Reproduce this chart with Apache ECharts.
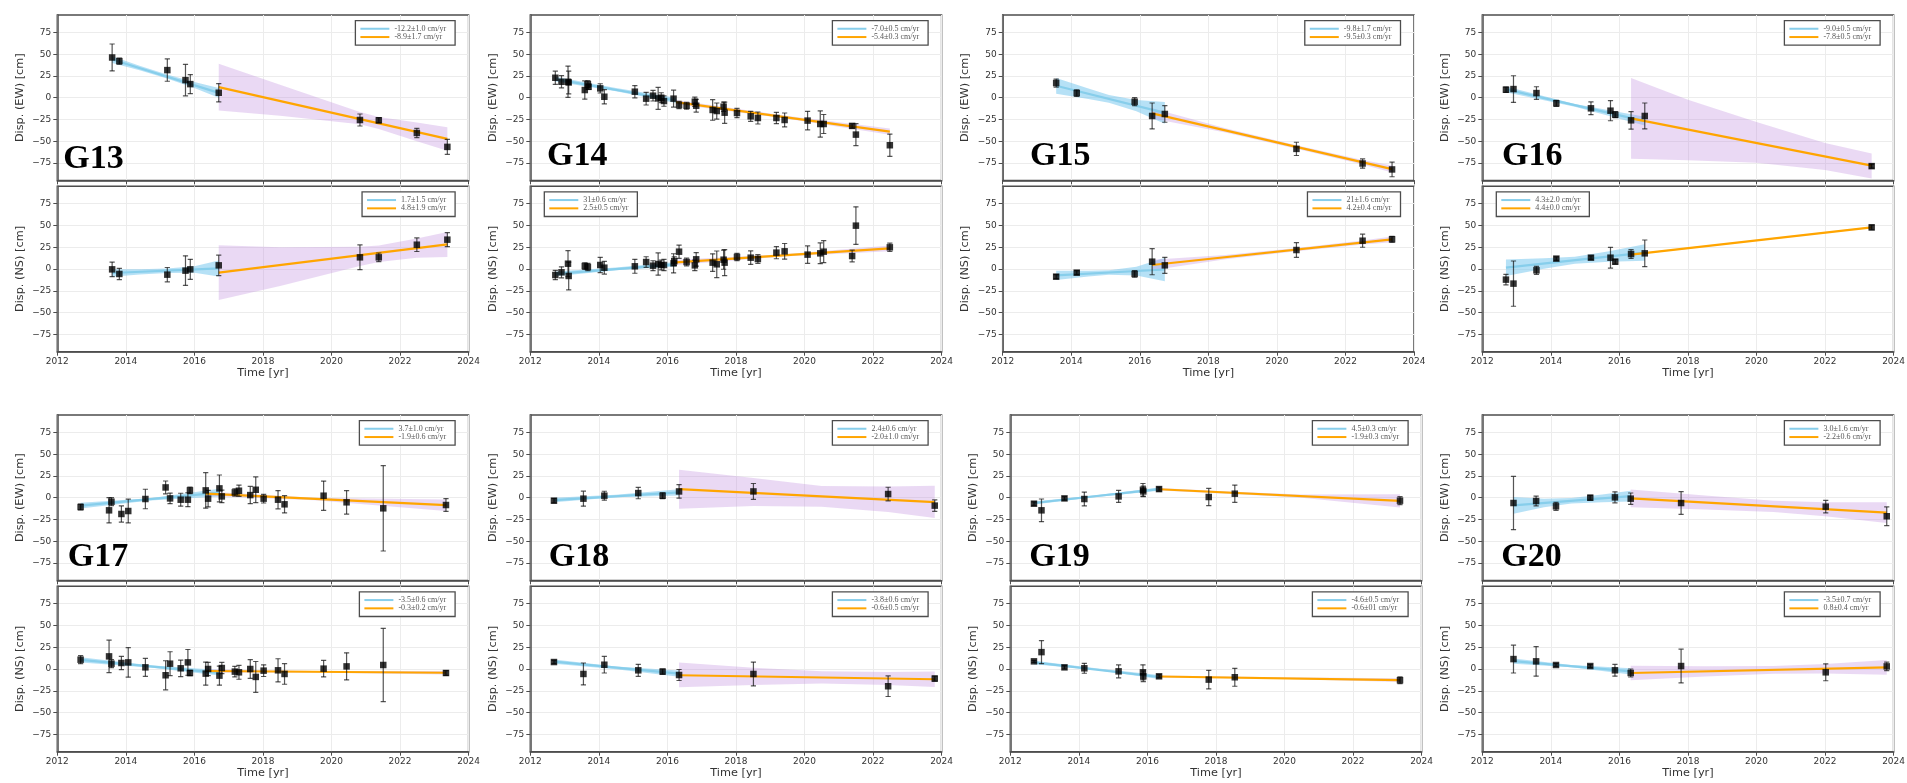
<!DOCTYPE html>
<html><head><meta charset="utf-8">
<script src="https://cdn.jsdelivr.net/npm/echarts@6/dist/echarts.min.js"></script>
<style>html,body{margin:0;padding:0;background:#fff}#c{width:1907px;height:783px}</style>
</head><body><div id="c"></div>
<script>
const xTicks = [2012, 2014, 2016, 2018, 2020, 2022, 2024];
const yTicks = [-75, -50, -25, 0, 25, 50, 75];
const stations = ['G13', 'G14', 'G15', 'G16', 'G17', 'G18', 'G19', 'G20'];

// ---- G13 ----
const G13_EW_pts = [[2013.60,46.2,15.5],[2013.81,42.0,3.6],[2015.21,31.7,12.8],[2015.74,20.2,18.0],[2015.88,15.6,11.0],[2016.71,5.7,10.5],[2020.83,-25.6,6.9],[2021.38,-26.0,3.0],[2022.49,-40.5,5.3],[2023.38,-56.5,8.6]];
const G13_EW_blue = [[2013.60,43.8],[2016.71,5.6]];
const G13_EW_blueBand = [[2013.60,40.0,47.6],[2014.40,31.4,36.6],[2015.20,22.0,26.6],[2016.00,11.0,18.0],[2016.71,0.0,11.2]];
const G13_EW_orange = [[2016.71,12.2],[2023.38,-47.3]];
const G13_EW_orangeBand = [[2016.71,-14.7,39.1],[2018.50,-20.8,15.0],[2020.83,-30.5,-16.5],[2021.38,-36.0,-22.3],[2022.49,-50.0,-28.4],[2023.38,-61.0,-34.0]];
const G13_EW_rates = ['-12.2±1.0 cm/yr', '-8.9±1.7 cm/yr'];

const G13_NS_pts = [[2013.60,-0.4,8.4],[2013.81,-5.7,6.5],[2015.21,-6.5,8.2],[2015.74,-1.9,17.0],[2015.88,-0.4,11.5],[2016.71,4.2,11.7],[2020.83,13.4,14.2],[2021.38,13.4,5.0],[2022.49,27.9,7.8],[2023.38,33.7,8.0]];
const G13_NS_blue = [[2013.60,-4.6],[2016.71,0.7]];
const G13_NS_blueBand = [[2013.60,-9.0,-0.2],[2014.40,-6.2,-0.2],[2015.20,-4.5,0.7],[2016.00,-4.4,3.2],[2016.71,-8.5,9.9]];
const G13_NS_orange = [[2016.71,-4.2],[2023.38,28.3]];
const G13_NS_orangeBand = [[2016.71,-35.6,27.2],[2018.50,-19.5,25.0],[2020.83,3.5,25.5],[2021.38,8.0,27.0],[2022.49,13.0,35.0],[2023.38,13.8,42.5]];
const G13_NS_rates = ['1.7±1.5 cm/yr', '4.8±1.9 cm/yr'];

// ---- G14 ----
const G14_EW_pts = [[2012.73,22.9,7.6],[2012.91,18.3,7.0],[2013.10,18.3,18.0],[2013.12,17.5,13.0],[2013.59,8.8,10.5],[2013.68,15.5,4.0],[2013.70,12.5,3.0],[2014.04,10.7,5.3],[2014.16,1.1,8.2],[2015.05,6.9,7.0],[2015.38,-1.1,7.3],[2015.58,2.3,6.1],[2015.73,-0.8,12.6],[2015.82,0.0,5.7],[2015.90,-3.8,6.0],[2016.18,-1.1,9.7],[2016.34,-8.4,4.2],[2016.56,-9.2,4.0],[2016.80,-4.6,5.3],[2016.84,-9.2,7.3],[2017.32,-14.1,11.8],[2017.44,-15.3,9.2],[2017.64,-10.3,5.3],[2017.67,-17.2,12.2],[2018.03,-17.6,5.3],[2018.43,-21.4,5.7],[2018.64,-23.3,6.9],[2019.18,-23.3,6.5],[2019.42,-25.6,8.0],[2020.09,-26.3,10.7],[2020.46,-30.2,15.0],[2020.56,-30.2,10.9],[2021.39,-32.4,2.5],[2021.50,-42.4,12.6],[2022.49,-54.6,12.8]];
const G14_EW_blue = [[2012.73,21.4],[2016.25,-3.2]];
const G14_EW_blueBand = [[2012.73,18.6,24.2],[2014.50,7.3,11.1],[2016.25,-6.2,-0.2]];
const G14_EW_orange = [[2016.25,-5.0],[2022.49,-39.0]];
const G14_EW_orangeBand = [[2016.25,-7.5,-2.5],[2019.40,-23.6,-20.4],[2022.49,-42.5,-35.5]];
const G14_EW_rates = ['-7.0±0.5 cm/yr', '-5.4±0.3 cm/yr'];

const G14_NS_pts = [[2012.73,-6.9,5.4],[2012.91,-3.8,6.3],[2013.10,6.1,15.0],[2013.12,-8.0,16.0],[2013.59,3.4,3.8],[2013.68,2.3,4.2],[2014.04,4.6,8.8],[2014.16,1.5,7.3],[2015.05,3.1,8.0],[2015.38,8.0,6.1],[2015.58,3.8,5.7],[2015.73,5.7,12.8],[2015.82,4.6,5.7],[2015.90,4.6,6.5],[2016.18,6.5,11.0],[2016.20,9.0,5.0],[2016.34,19.9,7.6],[2016.56,8.0,4.4],[2016.80,4.2,6.1],[2016.84,11.1,7.8],[2017.32,7.3,10.1],[2017.44,5.4,15.3],[2017.64,10.7,11.0],[2017.67,7.3,15.0],[2018.03,13.8,4.2],[2018.43,13.0,7.8],[2018.64,11.5,5.0],[2019.18,18.8,7.0],[2019.42,20.3,9.0],[2020.09,16.5,10.0],[2020.46,18.0,11.9],[2020.56,19.9,12.6],[2021.39,14.9,6.7],[2021.50,49.8,21.6],[2022.49,24.9,4.8]];
const G14_NS_blue = [[2012.73,-5.5],[2016.25,5.4]];
const G14_NS_blueBand = [[2012.73,-8.2,-2.8],[2014.50,-1.4,1.6],[2016.25,2.9,7.9]];
const G14_NS_orange = [[2016.25,7.5],[2022.49,23.6]];
const G14_NS_orangeBand = [[2016.25,4.5,10.5],[2019.40,14.3,16.9],[2022.49,20.3,27.0]];
const G14_NS_rates = ['31±0.6 cm/yr', '2.5±0.5 cm/yr'];

// ---- G15 ----
const G15_EW_pts = [[2013.56,16.8,4.6],[2014.16,5.3,3.8],[2015.85,-4.6,4.6],[2016.36,-21.0,14.9],[2016.73,-18.7,9.5],[2020.57,-58.8,7.6],[2022.50,-75.6,5.3],[2023.36,-82.4,8.4]];
const G15_EW_blue = [[2013.56,13.7],[2016.73,-17.4]];
const G15_EW_blueBand = [[2013.56,4.6,22.6],[2014.50,-1.5,10.5],[2015.10,-5.9,3.1],[2015.90,-15.7,-2.7],[2016.73,-29.9,-4.9]];
const G15_EW_orange = [[2016.36,-18.0],[2023.36,-82.0]];
const G15_EW_orangeBand = [[2016.36,-24.0,-12.0],[2018.50,-40.0,-35.2],[2020.57,-58.5,-54.5],[2022.50,-76.6,-71.6],[2023.36,-86.0,-78.0]];
const G15_EW_rates = ['-9.8±1.7 cm/yr', '-9.5±0.3 cm/yr'];

const G15_NS_pts = [[2013.56,-8.8,2.3],[2014.16,-4.2,2.3],[2015.85,-5.7,3.8],[2016.36,8.4,15.0],[2016.73,4.2,9.2],[2020.57,21.8,8.4],[2022.50,32.5,7.5],[2023.36,34.1,3.4]];
const G15_NS_blue = [[2013.56,-7.3],[2016.73,-0.6]];
const G15_NS_blueBand = [[2013.56,-12.6,-2.0],[2014.50,-8.6,-2.0],[2015.10,-6.7,-1.5],[2015.90,-7.4,2.6],[2016.73,-14.0,12.9]];
const G15_NS_orange = [[2016.36,4.6],[2023.36,34.0]];
const G15_NS_orangeBand = [[2016.36,-1.5,10.7],[2018.50,11.1,16.1],[2020.57,20.5,24.1],[2022.50,28.2,32.6],[2023.36,30.8,37.2]];
const G15_NS_rates = ['21±1.6 cm/yr', '4.2±0.4 cm/yr'];

// ---- G16 ----
const G16_EW_pts = [[2012.69,9.2,3.0],[2012.91,9.9,15.3],[2013.58,5.3,7.3],[2014.16,-6.5,3.4],[2015.17,-12.2,7.3],[2015.74,-14.9,11.6],[2015.88,-19.5,3.4],[2016.34,-26.0,10.1],[2016.74,-21.0,14.9],[2023.36,-78.6,2.3]];
const G16_EW_blue = [[2012.69,9.6],[2016.74,-26.9]];
const G16_EW_blueBand = [[2012.69,6.2,13.0],[2014.70,-10.4,-7.2],[2016.74,-32.0,-21.8]];
const G16_EW_orange = [[2016.34,-23.7],[2023.36,-78.0]];
const G16_EW_orangeBand = [[2016.34,-70.2,22.5],[2018.00,-71.8,-2.3],[2020.00,-74.8,-28.0],[2022.00,-83.0,-52.0],[2023.36,-92.7,-64.0]];
const G16_EW_rates = ['-9.0±0.5 cm/yr', '-7.8±0.5 cm/yr'];

const G16_NS_pts = [[2012.69,-12.2,6.0],[2012.91,-16.8,26.0],[2013.58,-1.5,4.6],[2014.16,11.9,2.0],[2015.17,13.0,2.0],[2015.74,13.0,11.9],[2015.88,8.4,2.7],[2016.34,17.2,5.0],[2016.74,18.0,15.3],[2023.36,47.8,2.7]];
const G16_NS_blue = [[2012.69,1.5],[2016.74,18.9]];
const G16_NS_blueBand = [[2012.69,-8.0,11.0],[2013.80,0.3,12.3],[2014.70,6.1,14.1],[2015.70,8.4,20.4],[2016.74,9.4,28.4]];
const G16_NS_orange = [[2016.34,16.5],[2023.36,47.8]];
const G16_NS_orangeBand = [[2016.34,15.8,17.2],[2023.36,47.1,48.5]];
const G16_NS_rates = ['4.3±2.0 cm/yr', '4.4±0.0 cm/yr'];

// ---- G17 ----
const G17_EW_pts = [[2012.68,-10.7,3.4],[2013.51,-14.5,14.5],[2013.58,-4.6,4.6],[2013.87,-18.7,9.3],[2014.07,-15.3,13.7],[2014.57,-1.5,11.2],[2015.16,11.8,7.4],[2015.29,-0.8,6.1],[2015.60,-2.3,7.4],[2015.81,-2.3,8.0],[2015.87,8.4,3.8],[2016.33,8.4,20.4],[2016.40,-1.1,9.5],[2016.73,10.7,15.4],[2016.80,1.5,7.2],[2017.18,6.1,4.2],[2017.30,8.0,6.5],[2017.63,3.0,9.9],[2017.79,9.1,14.8],[2018.02,-1.1,5.0],[2018.44,-2.3,10.5],[2018.63,-7.6,9.9],[2019.77,2.3,16.8],[2020.44,-5.3,13.5],[2021.51,-12.2,49.0],[2023.34,-8.4,7.4]];
const G17_EW_blue = [[2012.68,-9.1],[2016.73,5.9]];
const G17_EW_blueBand = [[2012.68,-12.5,-5.7],[2014.70,-3.3,-0.7],[2016.73,1.5,10.3]];
const G17_EW_orange = [[2016.33,4.6],[2023.34,-8.6]];
const G17_EW_orangeBand = [[2016.33,2.0,7.2],[2019.50,-2.8,-0.2],[2023.34,-15.3,-2.0]];
const G17_EW_rates = ['3.7±1.0 cm/yr', '-1.9±0.6 cm/yr'];

const G17_NS_pts = [[2012.68,10.7,4.6],[2013.51,14.5,18.6],[2013.58,6.1,4.6],[2013.87,6.9,7.6],[2014.07,7.6,17.0],[2014.57,1.9,10.3],[2015.16,-7.2,16.7],[2015.29,6.1,13.7],[2015.60,0.8,9.5],[2015.81,7.6,14.8],[2015.87,-4.6,3.0],[2016.33,-5.3,13.3],[2016.40,0.0,7.6],[2016.73,-7.6,11.0],[2016.80,1.1,6.5],[2017.18,-3.0,6.1],[2017.30,-3.8,8.0],[2017.63,0.0,10.7],[2017.79,-9.1,17.7],[2018.02,-1.9,6.7],[2018.44,-1.5,13.3],[2018.63,-5.7,11.8],[2019.77,0.4,9.5],[2020.44,3.0,15.6],[2021.51,4.6,42.0],[2023.34,-4.6,2.7]];
const G17_NS_blue = [[2012.68,10.5],[2016.73,-4.4]];
const G17_NS_blueBand = [[2012.68,7.5,13.5],[2014.70,1.6,4.2],[2016.73,-7.6,-1.2]];
const G17_NS_orange = [[2016.33,-2.3],[2023.34,-4.3]];
const G17_NS_orangeBand = [[2016.33,-4.3,-0.3],[2019.50,-3.9,-2.3],[2023.34,-6.4,-2.2]];
const G17_NS_rates = ['-3.5±0.6 cm/yr', '-0.3±0.2 cm/yr'];

// ---- G18 ----
const G18_EW_pts = [[2012.69,-3.4,2.5],[2013.55,-1.1,8.6],[2014.16,2.3,5.1],[2015.15,5.3,6.5],[2015.86,2.3,3.4],[2016.34,7.2,7.8],[2018.51,7.2,9.1],[2022.44,4.2,7.8],[2023.80,-9.1,6.5]];
const G18_EW_blue = [[2012.69,-2.7],[2016.34,6.1]];
const G18_EW_blueBand = [[2012.69,-5.3,-0.1],[2014.50,0.5,3.3],[2016.34,2.6,9.6]];
const G18_EW_orange = [[2016.34,9.9],[2023.80,-5.0]];
const G18_EW_orangeBand = [[2016.34,-12.6,32.0],[2018.51,-9.5,22.5],[2020.50,-10.5,13.5],[2022.44,-16.5,13.0],[2023.80,-23.2,13.7]];
const G18_EW_rates = ['2.4±0.6 cm/yr', '-2.0±1.0 cm/yr'];

const G18_NS_pts = [[2012.69,8.0,1.9],[2013.55,-5.7,12.6],[2014.16,4.9,9.5],[2015.15,-1.5,6.9],[2015.86,-3.0,3.0],[2016.34,-6.9,6.3],[2018.51,-5.7,13.7],[2022.44,-19.8,11.8],[2023.80,-11.0,2.9]];
const G18_NS_blue = [[2012.69,8.4],[2016.34,-5.3]];
const G18_NS_blueBand = [[2012.69,5.9,10.9],[2014.50,-0.2,3.0],[2016.34,-8.8,-1.8]];
const G18_NS_orange = [[2016.34,-7.2],[2023.80,-11.8]];
const G18_NS_orangeBand = [[2016.34,-20.9,7.6],[2018.51,-18.5,1.5],[2020.50,-16.7,-2.7],[2022.44,-18.4,-3.4],[2023.80,-20.8,-2.8]];
const G18_NS_rates = ['-3.8±0.6 cm/yr', '-0.6±0.5 cm/yr'];

// ---- G19 ----
const G19_EW_pts = [[2012.69,-6.9,2.0],[2012.91,-14.5,13.0],[2013.58,-0.8,2.0],[2014.16,-1.5,8.0],[2015.16,1.5,6.9],[2015.87,9.1,7.2],[2015.88,7.2,6.0],[2016.34,9.9,2.3],[2017.79,0.8,9.9],[2018.55,4.6,9.9],[2023.37,-3.4,4.6]];
const G19_EW_blue = [[2012.69,-6.1],[2016.34,9.9]];
const G19_EW_blueBand = [[2012.69,-7.8,-4.4],[2014.50,0.8,2.8],[2016.34,8.1,11.7]];
const G19_EW_orange = [[2016.34,9.7],[2023.37,-3.7]];
const G19_EW_orangeBand = [[2016.34,8.2,11.2],[2018.50,4.3,6.9],[2020.50,-0.2,3.8],[2023.37,-11.3,3.9]];
const G19_EW_rates = ['4.5±0.3 cm/yr', '-1.9±0.3 cm/yr'];

const G19_NS_pts = [[2012.69,8.8,1.2],[2012.91,19.4,13.3],[2013.58,1.9,1.9],[2014.16,0.8,5.7],[2015.16,-2.7,7.4],[2015.87,-3.8,8.6],[2015.88,-8.4,6.1],[2016.34,-8.4,1.9],[2017.79,-12.2,10.7],[2018.55,-9.5,10.3],[2023.37,-12.9,3.8]];
const G19_NS_blue = [[2012.69,7.6],[2016.34,-9.2]];
const G19_NS_blueBand = [[2012.69,5.6,9.6],[2014.50,-1.2,0.8],[2016.34,-11.6,-6.8]];
const G19_NS_orange = [[2016.34,-8.6],[2023.37,-12.8]];
const G19_NS_orangeBand = [[2016.34,-9.8,-7.4],[2019.80,-11.2,-9.6],[2023.37,-15.0,-10.6]];
const G19_NS_rates = ['-4.6±0.5 cm/yr', '-0.6±01 cm/yr'];

// ---- G20 ----
const G20_EW_pts = [[2012.91,-6.1,30.5],[2013.57,-3.8,5.7],[2014.15,-9.9,4.6],[2015.15,0.0,2.7],[2015.87,0.4,6.3],[2016.33,-1.1,6.5],[2017.80,-6.1,13.0],[2022.02,-10.3,7.2],[2023.80,-21.3,10.7]];
const G20_EW_blue = [[2012.91,-8.9],[2016.33,1.9]];
const G20_EW_blueBand = [[2012.91,-18.5,0.7],[2013.80,-11.1,-1.1],[2014.60,-6.8,-0.4],[2015.50,-5.2,3.8],[2016.33,-4.3,8.1]];
const G20_EW_orange = [[2016.33,-0.8],[2023.80,-17.1]];
const G20_EW_orangeBand = [[2016.33,-11.1,9.5],[2018.50,-13.6,2.4],[2020.50,-16.5,-3.5],[2022.00,-21.3,-5.3],[2023.80,-29.1,-5.1]];
const G20_EW_rates = ['3.0±1.6 cm/yr', '-2.2±0.6 cm/yr'];

const G20_NS_pts = [[2012.91,11.4,16.0],[2013.57,8.8,17.0],[2014.15,4.6,1.7],[2015.15,3.4,1.7],[2015.87,-1.5,6.7],[2016.33,-4.6,4.6],[2017.80,3.4,19.4],[2022.02,-3.8,9.7],[2023.80,3.0,4.8]];
const G20_NS_blue = [[2012.91,9.1],[2016.33,-2.7]];
const G20_NS_blueBand = [[2012.91,6.1,12.1],[2014.60,2.0,4.6],[2016.33,-6.2,0.8]];
const G20_NS_orange = [[2016.33,-4.6],[2023.80,1.9]];
const G20_NS_orangeBand = [[2016.33,-12.9,3.7],[2018.50,-8.7,3.3],[2020.50,-5.5,3.5],[2022.00,-5.2,5.8],[2023.80,-6.5,10.3]];
const G20_NS_rates = ['-3.5±0.7 cm/yr', '0.8±0.4 cm/yr'];

// ---------- build ----------
const D = {
  G13_EW:[G13_EW_pts,G13_EW_blue,G13_EW_blueBand,G13_EW_orange,G13_EW_orangeBand,G13_EW_rates],
  G13_NS:[G13_NS_pts,G13_NS_blue,G13_NS_blueBand,G13_NS_orange,G13_NS_orangeBand,G13_NS_rates],
  G14_EW:[G14_EW_pts,G14_EW_blue,G14_EW_blueBand,G14_EW_orange,G14_EW_orangeBand,G14_EW_rates],
  G14_NS:[G14_NS_pts,G14_NS_blue,G14_NS_blueBand,G14_NS_orange,G14_NS_orangeBand,G14_NS_rates],
  G15_EW:[G15_EW_pts,G15_EW_blue,G15_EW_blueBand,G15_EW_orange,G15_EW_orangeBand,G15_EW_rates],
  G15_NS:[G15_NS_pts,G15_NS_blue,G15_NS_blueBand,G15_NS_orange,G15_NS_orangeBand,G15_NS_rates],
  G16_EW:[G16_EW_pts,G16_EW_blue,G16_EW_blueBand,G16_EW_orange,G16_EW_orangeBand,G16_EW_rates],
  G16_NS:[G16_NS_pts,G16_NS_blue,G16_NS_blueBand,G16_NS_orange,G16_NS_orangeBand,G16_NS_rates],
  G17_EW:[G17_EW_pts,G17_EW_blue,G17_EW_blueBand,G17_EW_orange,G17_EW_orangeBand,G17_EW_rates],
  G17_NS:[G17_NS_pts,G17_NS_blue,G17_NS_blueBand,G17_NS_orange,G17_NS_orangeBand,G17_NS_rates],
  G18_EW:[G18_EW_pts,G18_EW_blue,G18_EW_blueBand,G18_EW_orange,G18_EW_orangeBand,G18_EW_rates],
  G18_NS:[G18_NS_pts,G18_NS_blue,G18_NS_blueBand,G18_NS_orange,G18_NS_orangeBand,G18_NS_rates],
  G19_EW:[G19_EW_pts,G19_EW_blue,G19_EW_blueBand,G19_EW_orange,G19_EW_orangeBand,G19_EW_rates],
  G19_NS:[G19_NS_pts,G19_NS_blue,G19_NS_blueBand,G19_NS_orange,G19_NS_orangeBand,G19_NS_rates],
  G20_EW:[G20_EW_pts,G20_EW_blue,G20_EW_blueBand,G20_EW_orange,G20_EW_orangeBand,G20_EW_rates],
  G20_NS:[G20_NS_pts,G20_NS_blue,G20_NS_blueBand,G20_NS_orange,G20_NS_orangeBand,G20_NS_rates]
};

const W = 1907;
const colLeftTop = [57.3, 530.3, 1002.7, 1482.3];
const colLeftBot = [57.3, 530.3, 1010.3, 1482.3];
const PW = 411.3, PH = 165.4;
const rowTops = [[15, 186.3], [415, 586.3]];
const labelPos = {G13:[63.3,159],G14:[547,156],G15:[1030,156],G16:[1502,156],G17:[67.7,557],G18:[548.7,557],G19:[1029.3,557],G20:[1501.3,557]};
const leftLegend = {G14_NS:true, G16_NS:true};

const BLUE = '#87ceeb', ORANGE = '#ffa500';
const BLUE_BAND = 'rgba(110,195,238,0.5)', PURPLE_BAND = 'rgba(190,140,222,0.33)';
const FRAME = '#4d4d4d';
const fmtY = v => v < 0 ? '\u2212' + (-v) : String(v);

const option = {animation:false, backgroundColor:'#fff', grid:[], xAxis:[], yAxis:[], series:[], legend:[], graphic:[]};

function bandSeries(i, band, color) {
  return {type:'custom', xAxisIndex:i, yAxisIndex:i, data:band, z:1, silent:true, clip:true,
    encode:{x:0, y:[1,2]},
    renderItem(params, api) {
      if (params.dataIndexInside !== 0) return null;
      const n = params.dataInsideLength, up = [], lo = [];
      for (let j = 0; j < n; j++) {
        up.push(api.coord([api.value(0, j), api.value(2, j)]));
        lo.push(api.coord([api.value(0, j), api.value(1, j)]));
      }
      return {type:'polygon', shape:{points: up.concat(lo.reverse())}, style:{fill:color}};
    }};
}
function errSeries(i, pts) {
  return {type:'custom', xAxisIndex:i, yAxisIndex:i, data:pts, z:4, silent:true, clip:true,
    encode:{x:0, y:1},
    renderItem(params, api) {
      const x = api.value(0), y = api.value(1), e = api.value(2);
      const t = api.coord([x, y + e]), b = api.coord([x, y - e]);
      const w = 2.6, st = {stroke:'rgba(20,20,20,0.72)', lineWidth:1.2};
      return {type:'group', children:[
        {type:'line', shape:{x1:t[0], y1:t[1], x2:b[0], y2:b[1]}, style:st},
        {type:'line', shape:{x1:t[0]-w, y1:t[1], x2:t[0]+w, y2:t[1]}, style:st},
        {type:'line', shape:{x1:b[0]-w, y1:b[1], x2:b[0]+w, y2:b[1]}, style:st}
      ]};
    }};
}

let gi = 0;
stations.forEach((st, si) => {
  const row = si < 4 ? 0 : 1, col = si % 4;
  const left = (row === 0 ? colLeftTop : colLeftBot)[col];
  ['EW', 'NS'].forEach((comp, ci) => {
    const key = st + '_' + comp;
    const [pts, blue, blueBand, orange, orangeBand, rates] = D[key];
    const top = rowTops[row][ci];
    const isNS = comp === 'NS';
    option.grid.push({left, top, width:PW, height:PH, show:true, borderColor:FRAME, borderWidth:1.5,
      backgroundColor:'#fff', containLabel:false, outerBoundsMode:'none'});
    option.xAxis.push({type:'value', gridIndex:gi, min:2012, max:2024, interval:2,
      axisLine:{show:true, onZero:false, lineStyle:{color:FRAME, width:1.5}},
      axisTick:{show:true, length:4, lineStyle:{color:FRAME, width:1}},
      axisLabel:{show:isNS, fontSize:9, color:'#333', fontFamily:'DejaVu Sans', margin:5, formatter:v=>String(v)},
      splitLine:{show:true, lineStyle:{color:'#ececec', width:1}},
      name: isNS ? 'Time [yr]' : '', nameLocation:'middle', nameGap:16,
      nameTextStyle:{fontSize:11.3, color:'#333', fontFamily:'DejaVu Sans'}});
    option.yAxis.push({type:'value', gridIndex:gi, min:-95, max:95,
      axisLine:{show:true, onZero:false, lineStyle:{color:FRAME, width:1.5}},
      axisTick:{show:true, length:4, customValues:yTicks, lineStyle:{color:FRAME, width:1}},
      axisLabel:{customValues:yTicks, fontSize:9, color:'#333', fontFamily:'DejaVu Sans', margin:6, formatter:fmtY},
      splitLine:{show:true, lineStyle:{color:'#ececec', width:1}},
      name: 'Disp. (' + comp + ') [cm]', nameLocation:'middle', nameGap:32,
      nameTextStyle:{fontSize:11.3, color:'#333', fontFamily:'DejaVu Sans'}});

    option.series.push(bandSeries(gi, blueBand, BLUE_BAND));
    option.series.push(bandSeries(gi, orangeBand, PURPLE_BAND));
    option.series.push({type:'line', name:rates[0], xAxisIndex:gi, yAxisIndex:gi, data:blue, symbol:'none', showSymbol:false,
      color:BLUE, lineStyle:{color:BLUE, width:2.2}, z:3, silent:true});
    option.series.push({type:'line', name:rates[1], xAxisIndex:gi, yAxisIndex:gi, data:orange, symbol:'none', showSymbol:false,
      color:ORANGE, lineStyle:{color:ORANGE, width:2.2}, z:3, silent:true});
    option.series.push(errSeries(gi, pts));
    option.series.push({type:'scatter', xAxisIndex:gi, yAxisIndex:gi, data:pts.map(p => [p[0], p[1]]),
      symbol:'rect', symbolSize:6.5, itemStyle:{color:'#000'}, z:5, silent:true});

    const lg = {show:true, data:rates, orient:'vertical', top: top + 5.6, icon:'rect', itemWidth:29, itemHeight:2, itemGap:0,
      padding:[4, 9, 4, 5], borderColor:FRAME, borderWidth:1.3, backgroundColor:'#fff', borderRadius:0,
      selectedMode:false, z:20,
      textStyle:{fontFamily:'Liberation Serif', fontSize:8, color:'#555', lineHeight:8.3}};
    if (leftLegend[key]) lg.left = left + 14; else lg.right = W - (left + PW) + 13.5;
    option.legend.push(lg);
    gi++;
  });
  const lp = labelPos[st];
  option.graphic.push({type:'text', x:lp[0], y:lp[1], z:30, silent:true,
    style:{text:st, fontFamily:'Liberation Serif', fontWeight:'bold', fontSize:34, fill:'#000', align:'left', verticalAlign:'middle'}});
});

const chart = echarts.init(document.getElementById('c'), null, {renderer:'canvas'});
chart.setOption(option);
</script>
</body></html>
